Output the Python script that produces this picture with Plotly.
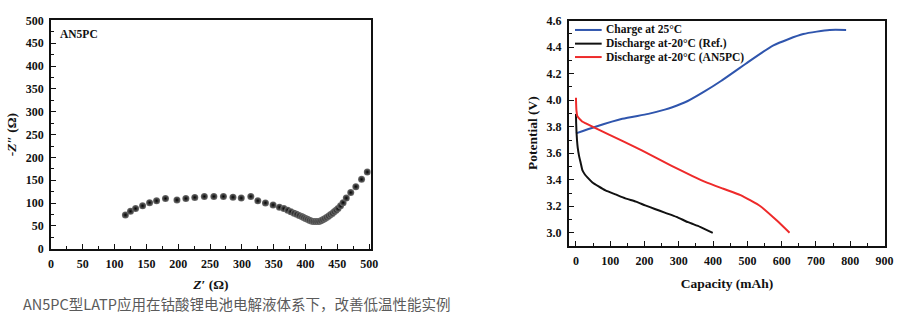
import plotly.graph_objects as go

# ---- Left panel: Nyquist plot (AN5PC) ----
z_re = [117, 125, 133, 144, 155, 166, 180, 198, 212, 226, 241, 256, 271, 286, 299, 314,
        325, 337, 349, 359, 366, 372, 377, 382, 386, 390, 394, 397, 400, 403, 406, 409,
        412, 415, 418, 421, 424, 427, 430, 433, 436, 439, 442, 445, 448, 451, 455, 459,
        464, 471, 479, 488, 497]
z_im = [74, 82, 88, 94, 101, 105, 110, 107, 110, 112.5, 114.5, 114.5, 114.5, 113, 111, 114.5,
        105, 100.5, 96, 91, 88, 84.5, 81, 78, 75.5, 73, 70.5, 68.5, 66.5, 64.5, 62.5, 61,
        60, 59.5, 59.5, 60, 61.5, 63.5, 66, 68.5, 71.5, 74.5, 77.5, 81, 84.5, 88, 94, 101,
        111, 123, 136, 152, 168]

# ---- Right panel: charge / discharge curves ----
charge_cap = [0, 57, 135, 211, 259, 279, 326, 375, 423, 499, 576, 663, 740, 788]
charge_v = [3.75, 3.80, 3.86, 3.897, 3.929, 3.945, 3.994, 4.066, 4.145, 4.282, 4.414, 4.499, 4.53, 4.53]

ref_cap = [0, 0.5, 1.5, 3, 5, 9, 14, 19, 26, 34, 48, 66, 86, 115, 144, 175, 202, 230, 259, 293, 327, 362, 399]
ref_v = [3.897, 3.83, 3.765, 3.70, 3.644, 3.58, 3.525, 3.47, 3.44, 3.416, 3.38, 3.35, 3.32, 3.29, 3.26, 3.235, 3.207, 3.18, 3.152, 3.12, 3.08, 3.045, 3.0]

an5_cap = [0, 0.5, 1.5, 4, 9.6, 18, 29, 57, 135, 192, 279, 340, 384, 430, 480, 538, 586, 623]
an5_v = [4.018, 3.97, 3.92, 3.88, 3.861, 3.84, 3.825, 3.789, 3.693, 3.621, 3.505, 3.428, 3.377, 3.332, 3.284, 3.2, 3.092, 3.0]

series_names = ["Charge at 25°C", "Discharge at-20°C (Ref.)", "Discharge at-20°C (AN5PC)"]
series_colors = ["#2f55ad", "#111111", "#ee2a2a"]

caption = "AN5PC型LATP应用在钴酸锂电池电解液体系下，改善低温性能实例"

SERIF = "Liberation Serif"
W, H = 909, 324

def px_x(p):
    return p / W

def px_y(p):
    return 1 - p / H

fig = go.Figure()

fig.add_trace(go.Scatter(
    x=z_re, y=z_im, mode="markers", showlegend=False,
    marker=dict(size=7, color="#707070",
                gradient=dict(type="radial", color="#000000"),
                line=dict(width=0)),
    xaxis="x", yaxis="y"))

curves = [(charge_cap, charge_v, 0.6), (ref_cap, ref_v, 0.5), (an5_cap, an5_v, 0.5)]
for (cx, cy, sm), name, col in zip(curves, series_names, series_colors):
    fig.add_trace(go.Scatter(x=cx, y=cy, mode="lines", name=name, showlegend=False,
                             line=dict(color=col, width=2, shape="spline", smoothing=sm),
                             xaxis="x2", yaxis="y2"))

tickfont = dict(family=SERIF, size=12, color="#111111", weight="bold")
titlefont = dict(family=SERIF, size=13.5, color="#111111", weight="bold")

def axis_common():
    return dict(showline=True, linecolor="#111111", linewidth=1.6, mirror=True,
                ticks="inside", ticklen=5, tickwidth=1.3, tickcolor="#111111",
                showgrid=False, zeroline=False, tickfont=tickfont,
                title_font=titlefont, ticklabelstandoff=3)

minor_kw = dict(ticks="inside", ticklen=3, tickcolor="#111111", tickwidth=1.2)

# manual compact legend (line samples + labels)
shapes = []
annotations = []
legend_rows = [24, 38.3, 52.3]
for name, col, ry in zip(series_names, series_colors, legend_rows):
    shapes.append(dict(type="line", xref="paper", yref="paper",
                       x0=px_x(579), x1=px_x(606), y0=px_y(ry), y1=px_y(ry),
                       line=dict(color=col, width=2)))
    annotations.append(dict(text=name, x=px_x(608), y=px_y(ry), xref="paper", yref="paper",
                            xanchor="left", yanchor="middle", showarrow=False,
                            font=dict(family=SERIF, size=11.5, color="#111111", weight="bold")))

annotations += [
    dict(text="AN5PC", x=px_x(56), y=px_y(28), xref="paper", yref="paper",
         xanchor="left", yanchor="middle", showarrow=False,
         font=dict(family=SERIF, size=11.5, color="#111111", weight="bold")),
    dict(text=caption, x=px_x(18), y=px_y(310), xref="paper", yref="paper",
         xanchor="left", yanchor="middle", showarrow=False,
         font=dict(family="Noto Sans CJK SC", size=14.5, color="#5a5a5a")),
]

fig.update_layout(
    width=W, height=H, margin=dict(l=0, r=0, t=0, b=0),
    paper_bgcolor="white", plot_bgcolor="white",
    xaxis=dict(**axis_common(), domain=[px_x(48.5), px_x(372.3)], range=[0, 502.5],
               tickmode="linear", tick0=0, dtick=50,
               minor=dict(**minor_kw, dtick=25),
               title=dict(text="<b><i>Z</i>′ (Ω)</b>", standoff=10),
               anchor="y"),
    yaxis=dict(**axis_common(), domain=[px_y(252.7), px_y(14)], range=[0, 500],
               tickmode="linear", tick0=0, dtick=50,
               minor=dict(**minor_kw, dtick=25),
               title=dict(text="<b>-<i>Z</i>″ (Ω)</b>", standoff=6),
               anchor="x"),
    xaxis2=dict(**axis_common(), domain=[px_x(572.7), px_x(893)], range=[-21, 902],
                tickmode="linear", tick0=0, dtick=100,
                minor=dict(**minor_kw, dtick=50),
                title=dict(text="<b>Capacity (mAh)</b>", standoff=12),
                anchor="y2"),
    yaxis2=dict(**axis_common(), domain=[px_y(249.3), px_y(14.3)], range=[2.904, 4.6],
                tickmode="linear", tick0=3.0, dtick=0.2, tickformat=".1f",
                minor=dict(**minor_kw, dtick=0.1),
                title=dict(text="<b>Potential (V)</b>", standoff=6),
                anchor="x2"),
    shapes=shapes,
    annotations=annotations,
)

fig.write_html("out.html")
